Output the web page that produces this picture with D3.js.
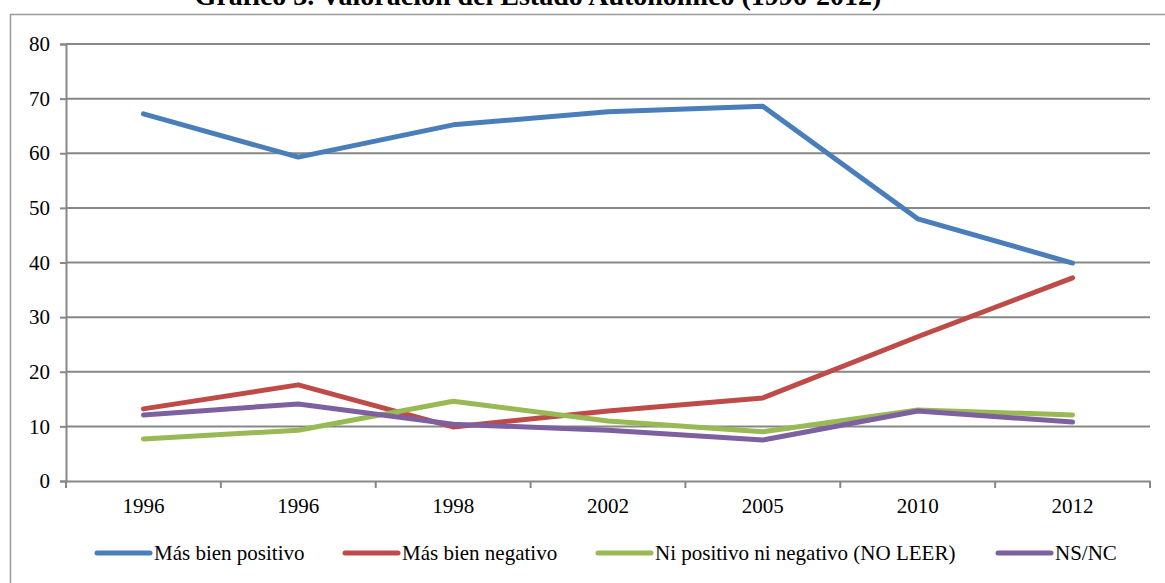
<!DOCTYPE html>
<html>
<head>
<meta charset="utf-8">
<script src="https://cdn.jsdelivr.net/npm/d3@7"></script>
<style>
  html, body { margin: 0; padding: 0; background: #fff; }
  svg { display: block; }
  svg text { font-family: "Liberation Serif", "Times New Roman", serif; }
</style>
</head>
<body>
<svg id="chart" width="1165" height="583"></svg>
<script>
// Survey years (the first wave appears twice in 1996)
const years = ["1996", "1996", "1998", "2002", "2005", "2010", "2012"];
const yTicks = [0, 10, 20, 30, 40, 50, 60, 70, 80];

const seriesNames = ["Más bien positivo", "Más bien negativo", "Ni positivo ni negativo (NO LEER)", "NS/NC"];
const positivo = [67.2, 59.3, 65.2, 67.6, 68.6, 48.0, 39.9];
const negativo = [13.2, 17.6, 9.9, 12.8, 15.2, 26.4, 37.2];
const neutral  = [7.7, 9.3, 14.6, 11.0, 9.0, 13.0, 12.1];
const nsnc     = [12.1, 14.1, 10.4, 9.3, 7.5, 12.8, 10.8];
const colors = ["#4a7ebb", "#be4b48", "#98b954", "#7d60a0"];

const series = [positivo, negativo, neutral, nsnc].map((values, i) => ({
  name: seriesNames[i], values, color: colors[i]
}));

const FONT = "'Liberation Serif', 'Times New Roman', serif";
const svg = d3.select("#chart");
const plotLeft = 66, plotRight = 1150, plotTop = 44, plotBottom = 481;

const x = d3.scaleBand().domain(d3.range(years.length)).range([plotLeft, plotRight]);
const y = d3.scaleLinear().domain([0, 80]).range([plotBottom, plotTop]);

// Title (sits at the very top edge of the page)
svg.append("text")
  .attr("x", 538).attr("y", 4.5)
  .attr("text-anchor", "middle")
  .style("font-family", FONT)
  .style("font-weight", "bold")
  .style("font-size", "28px")
  .attr("fill", "#000")
  .text("Gráfico 3. Valoración del Estado Autonómico (1996-2012)");

// Outer chart frame
svg.append("path")
  .attr("d", "M10.5,583 V14.5 H1165")
  .attr("fill", "none")
  .attr("stroke", "#9a9a9a")
  .attr("stroke-width", 1.5);

// Horizontal gridlines
svg.append("g")
  .selectAll("line")
  .data(yTicks.filter(d => d > 0))
  .join("line")
  .attr("x1", plotLeft).attr("x2", plotRight)
  .attr("y1", d => y(d)).attr("y2", d => y(d))
  .attr("stroke", "#878787")
  .attr("stroke-width", 2);

// Y axis
const yAxis = svg.append("g")
  .attr("transform", `translate(${plotLeft},0)`)
  .call(d3.axisLeft(y).tickValues(yTicks).tickSize(6).tickPadding(10));
yAxis.select(".domain").attr("stroke", "#878787").attr("stroke-width", 2);
yAxis.selectAll(".tick line").attr("stroke", "#878787").attr("stroke-width", 2);
yAxis.selectAll(".tick text")
  .style("font-family", FONT)
  .style("font-size", "21px").attr("fill", "#000");

// X axis: labels at band centres, tick marks at band boundaries
const xAxis = svg.append("g")
  .attr("transform", `translate(0,${plotBottom})`)
  .call(d3.axisBottom(x).tickFormat(i => years[i]).tickSize(0).tickPadding(17));
xAxis.select(".domain").attr("stroke", "#878787").attr("stroke-width", 2);
xAxis.selectAll(".tick text")
  .style("font-family", FONT)
  .style("font-size", "21px").attr("fill", "#000");
const boundaries = d3.range(years.length + 1).map(i => plotLeft + i * x.step());
xAxis.selectAll(".bound")
  .data(boundaries)
  .join("line")
  .attr("class", "bound")
  .attr("x1", d => d).attr("x2", d => d)
  .attr("y1", 0).attr("y2", 7)
  .attr("stroke", "#878787").attr("stroke-width", 2);

// Series lines
const line = d3.line()
  .x((d, i) => x(i) + x.bandwidth() / 2)
  .y(d => y(d));

svg.append("g")
  .selectAll("path")
  .data(series)
  .join("path")
  .attr("d", d => line(d.values))
  .attr("fill", "none")
  .attr("stroke", d => d.color)
  .attr("stroke-width", 5)
  .attr("stroke-linejoin", "round")
  .attr("stroke-linecap", "round");

// Legend
const legendX = [97, 345, 598, 998];
const legendLen = 53;
const legendY = 553;
const legend = svg.append("g")
  .selectAll("g")
  .data(series)
  .join("g")
  .attr("transform", (d, i) => `translate(${legendX[i]},${legendY})`);
legend.append("line")
  .attr("x1", 0).attr("x2", legendLen)
  .attr("y1", 0).attr("y2", 0)
  .attr("stroke", d => d.color)
  .attr("stroke-width", 5)
  .attr("stroke-linecap", "round");
legend.append("text")
  .attr("x", legendLen + 4)
  .attr("y", 0)
  .attr("dy", "0.34em")
  .style("font-family", FONT)
  .style("font-size", "21px")
  .attr("fill", "#000")
  .text(d => d.name);
</script>
</body>
</html>
